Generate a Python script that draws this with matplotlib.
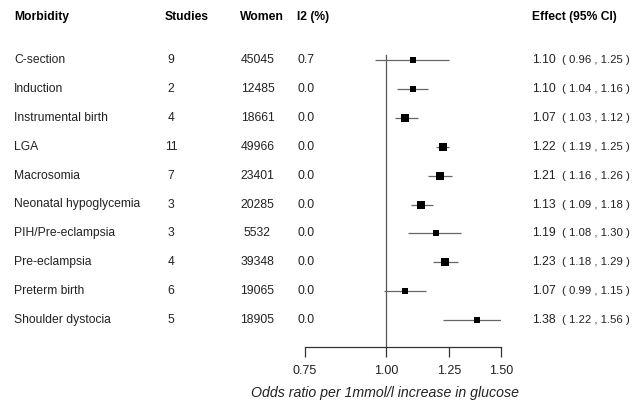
import numpy as np
import matplotlib
matplotlib.use('Agg')
import matplotlib.pyplot as plt
import matplotlib.transforms as mtransforms

plt.rcParams['font.family'] = ['Liberation Sans', 'DejaVu Sans']

# data
morbidity = ['C-section', 'Induction', 'Instrumental birth', 'LGA', 'Macrosomia',
             'Neonatal hypoglycemia', 'PIH/Pre-eclampsia', 'Pre-eclampsia',
             'Preterm birth', 'Shoulder dystocia']
studies = [9, 2, 4, 11, 7, 3, 3, 4, 6, 5]
women = [45045, 12485, 18661, 49966, 23401, 20285, 5532, 39348, 19065, 18905]
i2 = [0.7, 0.0, 0.0, 0.0, 0.0, 0.0, 0.0, 0.0, 0.0, 0.0]
effect = [1.10, 1.10, 1.07, 1.22, 1.21, 1.13, 1.19, 1.23, 1.07, 1.38]
lower = [0.96, 1.04, 1.03, 1.19, 1.16, 1.09, 1.08, 1.18, 0.99, 1.22]
upper = [1.25, 1.16, 1.12, 1.25, 1.26, 1.18, 1.30, 1.29, 1.15, 1.56]
xticks = [0.75, 1.00, 1.25, 1.50]

# box side in pixels (weights)
box_px = [5.7, 6.7, 7.7, 8.7, 7.7, 7.7, 6.3, 7.7, 6.7, 6.0]

W, H = 632, 400
fig = plt.figure(figsize=(W / 100, H / 100), dpi=100)

row0, step = 60, 28.9
ax_bottom_px = 347
ax = fig.add_axes([305 / W, (H - ax_bottom_px) / H, (501 - 305) / W, ax_bottom_px / H])
ax.set_xscale('log')
ax.set_xlim(0.75, 1.5)
ax.set_ylim((ax_bottom_px - row0) / step, (0 - row0) / step)
ax.patch.set_alpha(0)
for s in ['top', 'right', 'left']:
    ax.spines[s].set_visible(False)
ax.spines['bottom'].set_color('#333333')
ax.spines['bottom'].set_linewidth(0.9)
ax.set_yticks([])
ax.set_xticks(xticks)
ax.set_xticklabels(['%.2f' % t for t in xticks])
ax.xaxis.set_minor_locator(matplotlib.ticker.NullLocator())
ax.tick_params(axis='x', length=7, width=0.9, color='#333333', labelsize=9,
               labelcolor='#222222', pad=6)

n = len(morbidity)
y = np.arange(n)
ax.plot([1, 1], [-0.17, (ax_bottom_px - row0) / step], color='#555555', lw=0.9)
ax.hlines(y, lower, upper, color='#666666', lw=0.9)
for i in range(n):
    ax.plot(effect[i], y[i], marker='s', color='black', ms=box_px[i] * 0.72, mew=0)

ax.set_xlabel('Odds ratio per 1mmol/l increase in glucose', fontstyle='italic',
              fontsize=10.2, color='#222222')
ax.xaxis.set_label_coords((385 - 305) / (501 - 305), -39 / ax_bottom_px)

# table columns
tr = mtransforms.blended_transform_factory(fig.transFigure, ax.transData)
def fx(px):
    return px / W

hy = (17 - row0) / step
fs = 8.7
ax.text(fx(14), hy, 'Morbidity', transform=tr, fontweight='bold', fontsize=fs, va='center')
ax.text(fx(165), hy, 'Studies', transform=tr, fontweight='bold', fontsize=fs, va='center')
ax.text(fx(240), hy, 'Women', transform=tr, fontweight='bold', fontsize=fs, va='center')
ax.text(fx(297), hy, 'I2 (%)', transform=tr, fontweight='bold', fontsize=fs, va='center')
ax.text(fx(532), hy, 'Effect (95% CI)', transform=tr, fontweight='bold', fontsize=fs, va='center')

for i in range(n):
    kw = dict(transform=tr, fontsize=fs, va='center', color='#222222', clip_on=False)
    ax.text(fx(14), y[i], morbidity[i], ha='left', **kw)
    ax.text(fx(171), y[i], str(studies[i]), ha='center', **kw)
    ax.text(fx(257.5), y[i], str(women[i]), ha='center', **kw)
    ax.text(fx(297), y[i], '%.1f' % i2[i], ha='left', **kw)
    ax.text(fx(532), y[i], '%.2f' % effect[i], ha='left', **kw)
    ax.text(fx(630), y[i], '( %.2f , %.2f )' % (lower[i], upper[i]), ha='right',
            **dict(kw, fontsize=8.2))

fig.savefig('out.png', dpi=100)
